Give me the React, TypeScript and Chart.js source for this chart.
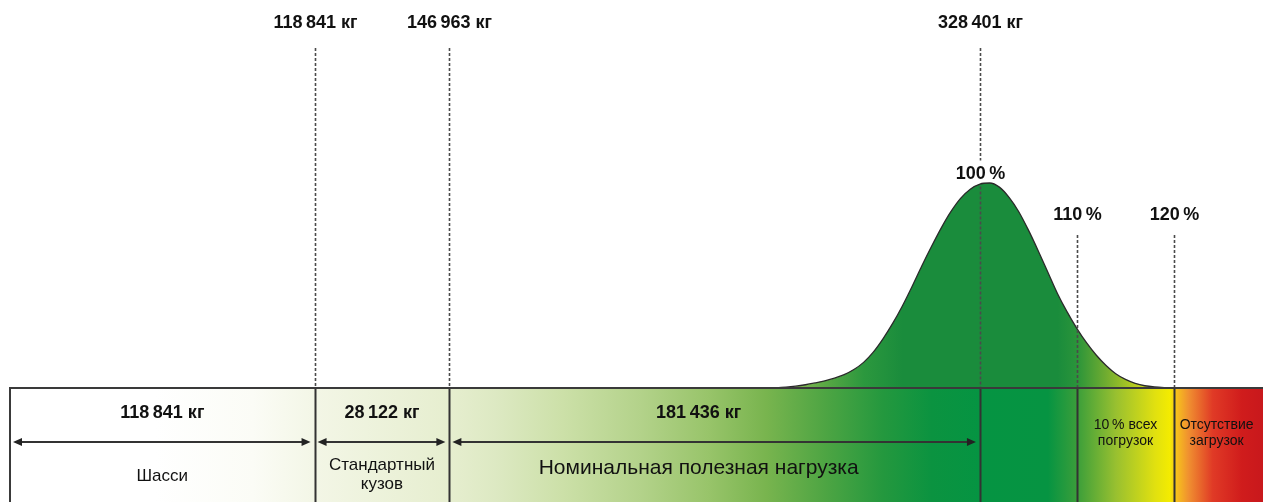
import React, { useEffect, useRef } from "react";
import { Chart, registerables } from "chart.js";

Chart.register(...registerables);

// ---------- DATA ----------
// Load as % of nominal gross weight (schematic axis) and relative frequency of loads
const curveLoadPct = [78, 79, 80, 81, 82, 83, 84, 85, 86, 87, 88, 89, 90, 91, 92, 93, 94, 95, 96, 97, 98, 99, 100,
  101, 102, 103, 104, 105, 106, 107, 108, 109, 110, 111, 112, 113, 114, 115, 116, 117, 118, 119, 120];
const curveFrequency = [0, 0.1, 0.4, 0.9, 1.6, 2.5, 3.5, 4.8, 6.5, 9, 12.5, 17.5, 24, 31.5, 40, 49.5, 59.5, 69, 78, 86, 92.5, 97, 99.5,
  100, 98, 93, 86, 77, 67, 56.5, 46, 37, 29, 22, 16, 11, 7, 4.2, 2.3, 1.1, 0.5, 0.2, 0.05];

// Vertical markers (schematic position on the load axis)
const markerPositions = [31.4, 45.3, 100, 110, 120];
const markerWeightLabels = ["118\u2009841 кг", "146\u2009963 кг", "328\u2009401 кг", "", ""];
const markerPctLabels = ["", "", "100\u2009%", "110\u2009%", "120\u2009%"];

// Segments of the bottom bar
const segmentEdges = [0, 31.4, 45.3, 100, 110, 120, 129.2];
const segmentWeights = ["118\u2009841 кг", "28\u2009122 кг", "181\u2009436 кг", "", "", ""];
const segmentNames = [
  ["Шасси"],
  ["Стандартный", "кузов"],
  ["Номинальная полезная нагрузка"],
  [],
  ["10\u2009% всех", "погрузок"],
  ["Отсутствие", "загрузок"],
];

// ---------- STYLE ----------
const FONT = '"Liberation Sans", Arial, Helvetica, sans-serif';
const X_MIN = -1.031;
const X_MAX = 129.18;
const Y_MIN = -55.6;
const Y_MAX = 189.27;
const pctLabelLevel = [0, 0, 104.6, 84.4, 84.4];
const nameFontSize = [17, 17, 21, 0, 14, 14];
const nameCenterOffset = [88, 86.5, 80, 0, 45, 45];
const nameLineGap = [0, 19, 0, 0, 15.5, 15.5];
const nameShiftX = [0, 0, -16, 0, 0, -2];
const barStops: [number, string][] = [
  [0, "#ffffff"], [15, "#ffffff"], [25, "#fbfcf6"], [31.4, "#f3f6e6"], [45.3, "#e6eecf"],
  [50, "#dde9c3"], [57, "#cce0a8"], [65, "#b3d28a"], [72, "#98c46a"], [78, "#78b44e"],
  [84, "#4ea543"], [90, "#24983e"], [95, "#0b9340"], [100, "#059442"], [107, "#069442"],
  [110, "#3a9e3a"], [114, "#98c030"], [118, "#e0e010"], [119.6, "#f4ec00"], [120, "#f8cc18"],
  [121.5, "#f09030"], [124, "#e03a26"], [127, "#d01c1c"], [129.2, "#c8181c"],
];
const curveStops: [number, string][] = [
  [78, "#a8c868"], [81, "#86b852"], [84, "#5aa844"], [88, "#2c983e"], [92, "#1a8c3c"],
  [108, "#1a8c3c"], [110, "#2a943a"], [113, "#70ac30"], [116, "#b8cc20"], [119, "#e0e020"], [122, "#eee820"],
];

function makeGradient(c: CanvasRenderingContext2D, xs: any, stops: [number, string][]) {
  const a = stops[0][0];
  const b = stops[stops.length - 1][0];
  const g = c.createLinearGradient(xs.getPixelForValue(a), 0, xs.getPixelForValue(b), 0);
  stops.forEach(([v, col]) => g.addColorStop((v - a) / (b - a), col));
  return g;
}

function arrowHead(c: CanvasRenderingContext2D, x: number, y: number, dir: number) {
  c.beginPath();
  c.moveTo(x, y);
  c.lineTo(x - dir * 9, y - 4);
  c.lineTo(x - dir * 9, y + 4);
  c.closePath();
  c.fill();
}

const infographic = {
  id: "infographic",
  beforeDatasetsDraw(chart: any) {
    const { ctx, scales, chartArea } = chart;
    const xs = scales.x;
    const ys = scales.y;
    const y0 = ys.getPixelForValue(0);
    const xl = xs.getPixelForValue(segmentEdges[0]);
    const xr = xs.getPixelForValue(segmentEdges[segmentEdges.length - 1]);
    ctx.save();
    ctx.fillStyle = makeGradient(ctx, xs, barStops);
    ctx.fillRect(xl, y0, xr - xl, chartArea.bottom - y0);
    ctx.restore();
  },
  afterDatasetsDraw(chart: any) {
    const { ctx, scales, chartArea } = chart;
    const xs = scales.x;
    const ys = scales.y;
    const y0 = ys.getPixelForValue(0);
    const yb = chartArea.bottom;
    ctx.save();

    // dashed marker lines and labels above the bar
    markerPositions.forEach((p, i) => {
      const x = Math.round(xs.getPixelForValue(p)) + 0.5;
      ctx.strokeStyle = "#4a4a4a";
      ctx.lineWidth = 1.6;
      ctx.setLineDash([3, 2]);
      const segs: [number, number][] = [];
      const hasTop = markerWeightLabels[i] !== "";
      const hasPct = markerPctLabels[i] !== "";
      const pctY = ys.getPixelForValue(pctLabelLevel[i]);
      if (hasTop && hasPct) {
        segs.push([48, pctY - 13]);
        segs.push([pctY + 13, y0]);
      } else if (hasTop) {
        segs.push([48, y0]);
      } else {
        segs.push([pctY + 20, y0]);
      }
      segs.forEach(([a, b]) => {
        ctx.beginPath();
        ctx.moveTo(x, a);
        ctx.lineTo(x, b);
        ctx.stroke();
      });
      ctx.setLineDash([]);
      ctx.fillStyle = "#111";
      ctx.textAlign = "center";
      ctx.textBaseline = "middle";
      ctx.font = `bold 18px ${FONT}`;
      if (hasTop) ctx.fillText(markerWeightLabels[i], x, 23);
      if (hasPct) ctx.fillText(markerPctLabels[i], x, pctY);
      // solid divider inside the bar
      ctx.strokeStyle = "#333";
      ctx.lineWidth = 2;
      ctx.beginPath();
      ctx.moveTo(x, y0);
      ctx.lineTo(x, yb);
      ctx.stroke();
    });

    // bar frame
    const xl = xs.getPixelForValue(segmentEdges[0]);
    const xr = xs.getPixelForValue(segmentEdges[segmentEdges.length - 1]);
    ctx.strokeStyle = "#3a3a3a";
    ctx.lineWidth = 2;
    ctx.beginPath();
    ctx.moveTo(xl, yb);
    ctx.lineTo(xl, y0);
    ctx.lineTo(xr, y0);
    ctx.stroke();

    // segment texts and arrows
    for (let s = 0; s < segmentEdges.length - 1; s++) {
      const a = xs.getPixelForValue(segmentEdges[s]);
      const b = xs.getPixelForValue(segmentEdges[s + 1]);
      const cx = (a + b) / 2;
      ctx.fillStyle = "#111";
      ctx.textAlign = "center";
      ctx.textBaseline = "middle";
      if (segmentWeights[s]) {
        ctx.font = `bold 18px ${FONT}`;
        ctx.fillText(segmentWeights[s], cx + nameShiftX[s], y0 + 25);
        // arrow
        const ay = y0 + 54;
        const ax1 = a + 3;
        const ax2 = b - 4;
        ctx.strokeStyle = "#333";
        ctx.fillStyle = "#222";
        ctx.lineWidth = 2;
        ctx.beginPath();
        ctx.moveTo(ax1 + 6, ay);
        ctx.lineTo(ax2 - 6, ay);
        ctx.stroke();
        arrowHead(ctx, ax1, ay, -1);
        arrowHead(ctx, ax2, ay, 1);
      }
      const lines = segmentNames[s];
      if (lines.length) {
        ctx.fillStyle = "#111";
        ctx.font = `${nameFontSize[s]}px ${FONT}`;
        const gap = nameLineGap[s];
        const start = y0 + nameCenterOffset[s] - (gap * (lines.length - 1)) / 2;
        lines.forEach((t, k) => ctx.fillText(t, cx + nameShiftX[s], start + k * gap));
      }
    }
    ctx.restore();
  },
};

export default function App() {
  const ref = useRef<HTMLCanvasElement>(null);
  useEffect(() => {
    document.body.style.margin = "0";
    const canvas = ref.current!;
    const chart = new Chart(canvas, {
      type: "line",
      data: {
        datasets: [
          {
            data: curveLoadPct.map((x, i) => ({ x, y: curveFrequency[i] })),
            borderColor: "#2a2a2a",
            borderWidth: 1.3,
            pointRadius: 0,
            cubicInterpolationMode: "monotone",
            fill: "origin",
            backgroundColor: (c: any) => {
              const ch = c.chart;
              if (!ch.chartArea) return "#1a8c3c";
              return makeGradient(ch.ctx, ch.scales.x, curveStops);
            },
          },
        ],
      },
      options: {
        animation: false,
        responsive: true,
        maintainAspectRatio: false,
        layout: { padding: 0 },
        plugins: { legend: { display: false }, tooltip: { enabled: false } },
        scales: {
          x: { type: "linear", min: X_MIN, max: X_MAX, display: false },
          y: { type: "linear", min: Y_MIN, max: Y_MAX, display: false },
        },
      },
      plugins: [infographic],
    } as any);
    return () => chart.destroy();
  }, []);
  return (
    <div style={{ width: 1263, height: 502, position: "relative" }}>
      <canvas ref={ref} />
    </div>
  );
}
